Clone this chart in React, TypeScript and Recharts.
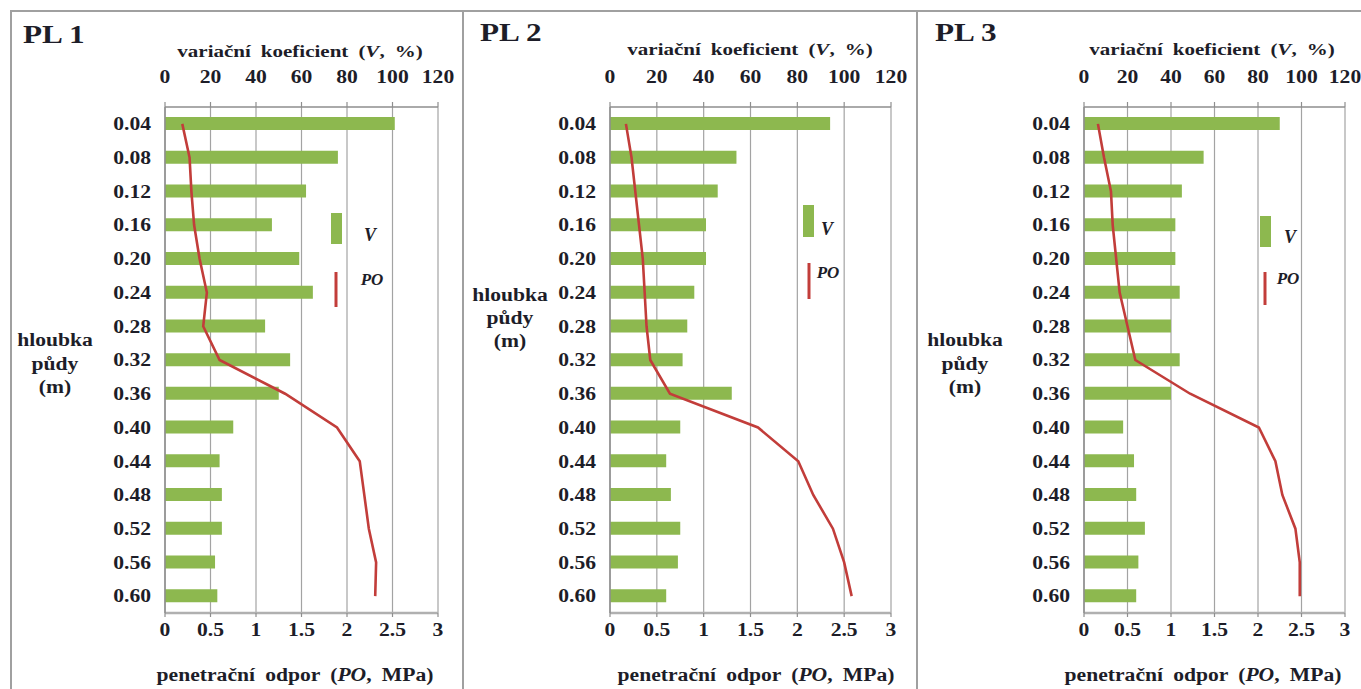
import React from 'react';
import { ComposedChart, Bar, Line, XAxis, YAxis, CartesianGrid, Legend } from 'recharts';

// ---------- data ----------
const depths = ['0.04', '0.08', '0.12', '0.16', '0.20', '0.24', '0.28', '0.32', '0.36', '0.40', '0.44', '0.48', '0.52', '0.56', '0.60'];

const v1 = [101, 76, 62, 47, 59, 65, 44, 55, 50, 30, 24, 25, 25, 22, 23];
const po1 = [0.19, 0.27, 0.29, 0.32, 0.38, 0.46, 0.42, 0.6, 1.32, 1.89, 2.14, 2.19, 2.24, 2.32, 2.31];

const v2 = [94, 54, 46, 41, 41, 36, 33, 31, 52, 30, 24, 26, 30, 29, 24];
const po2 = [0.17, 0.23, 0.27, 0.31, 0.35, 0.37, 0.39, 0.43, 0.64, 1.58, 2.01, 2.17, 2.38, 2.5, 2.58];

const v3 = [90, 55, 45, 42, 42, 44, 40, 44, 40, 18, 23, 24, 28, 25, 24];
const po3 = [0.16, 0.23, 0.31, 0.33, 0.37, 0.41, 0.5, 0.59, 1.22, 2.01, 2.2, 2.28, 2.43, 2.48, 2.48];

const vTicks = [0, 20, 40, 60, 80, 100, 120];
const poTicks = [0, 0.5, 1, 1.5, 2, 2.5, 3];
const boundaryTicks = [0, 1, 2, 3, 4, 5, 6, 7, 8, 9, 10, 11, 12, 13, 14, 15];

const panelNames = ['PL 1', 'PL 2', 'PL 3'];
const vTitle = 'variační koeficient';
const poTitle = 'penetrační odpor';
const depthTitle = ['hloubka', 'půdy', '(m)'];
const seriesV = 'V';
const seriesPO = 'PO';

// ---------- style ----------
const FONT = '"Liberation Serif", "Times New Roman", serif';
const TXT = '#1d1d28';
const GREEN = '#8db84f';
const RED = '#c23d3a';
const GRID = '#a3a3a3';
const AXIS = '#8e8e8e';
const SX = 1.2;
const H = 689;

const panels = [
  {
    name: panelNames[0], v: v1, po: po1, left: 0, width: 460, yw: 165, right: 22,
    pl: { x: 23, y: 35 }, vt: { x: 300, y: 52 }, pt: { x: 295, y: 675 }, dt: { x: 55, y: [340, 364, 387] },
    lg: { x: 331, y: 213, rh: 31, vx: 39, vy: 22, lx: 5, ly1: 59, ly2: 94, px: 41, py: 66 },
  },
  {
    name: panelNames[1], v: v2, po: po2, left: 455, width: 455, yw: 155, right: 19,
    pl: { x: 480, y: 33 }, vt: { x: 750, y: 50 }, pt: { x: 756, y: 675 }, dt: { x: 510, y: [295, 318, 341] },
    lg: { x: 348, y: 205, rh: 32, vx: 24, vy: 24, lx: 6, ly1: 58, ly2: 94, px: 25, py: 67 },
  },
  {
    name: panelNames[2], v: v3, po: po3, left: 910, width: 451, yw: 174, right: 16,
    pl: { x: 935, y: 33 }, vt: { x: 1212, y: 50 }, pt: { x: 1203, y: 675 }, dt: { x: 965, y: [340, 364, 387] },
    lg: { x: 350, y: 216, rh: 31, vx: 30, vy: 21, lx: 5, ly1: 56, ly2: 89, px: 28, py: 62 },
  },
];

const textStyle = (cx: number, cy: number, size: number): React.CSSProperties => ({
  position: 'absolute',
  left: cx,
  top: cy,
  transform: `translate(-50%, -50%) scaleX(${SX})`,
  fontFamily: FONT,
  fontWeight: 'bold',
  fontSize: size,
  color: TXT,
  whiteSpace: 'pre',
  lineHeight: 1,
});

function TopTick(props: any) {
  const { x, y, payload } = props;
  return (
    <g transform={`translate(${x},${y}) scale(${SX},1)`}>
      <text x={0} y={0} textAnchor="middle" fill={TXT} fontFamily={FONT} fontWeight="bold" fontSize={18}>
        {payload.value}
      </text>
    </g>
  );
}

function BottomTick(props: any) {
  const { x, y, payload } = props;
  return (
    <g transform={`translate(${x},${y}) scale(${SX},1)`}>
      <text x={0} y={0} dy="0.71em" textAnchor="middle" fill={TXT} fontFamily={FONT} fontWeight="bold" fontSize={18}>
        {String(payload.value)}
      </text>
    </g>
  );
}

function LeftTick(props: any) {
  const { x, y, payload } = props;
  return (
    <g transform={`translate(${x},${y}) scale(${SX},1)`}>
      <text x={0} y={0} dy="0.35em" textAnchor="end" fill={TXT} fontFamily={FONT} fontWeight="bold" fontSize={18}>
        {payload.value}
      </text>
    </g>
  );
}

function makeLegend(lg: any) {
  return (props: any) => {
    const payload = props.payload || [];
    const barItem = payload.find((p: any) => p.type === 'rect') || payload[0];
    const lineItem = payload.find((p: any) => p.type === 'line') || payload[1];
    return (
      <svg width={80} height={110} style={{ overflow: 'visible', display: 'block' }}>
        <rect x={0} y={0} width={11} height={lg.rh} fill={barItem ? barItem.color : GREEN} />
        <text x={lg.vx} y={lg.vy} dy="0.35em" textAnchor="middle" fill={TXT} fontFamily={FONT} fontStyle="italic" fontWeight="bold" fontSize={18}>
          {barItem ? barItem.value : seriesV}
        </text>
        <line x1={lg.lx} x2={lg.lx} y1={lg.ly1} y2={lg.ly2} stroke={lineItem ? lineItem.color : RED} strokeWidth={3} />
        <text x={lg.px} y={lg.py} dy="0.35em" textAnchor="middle" fill={TXT} fontFamily={FONT} fontStyle="italic" fontWeight="bold" fontSize={17}>
          {lineItem ? lineItem.value : seriesPO}
        </text>
      </svg>
    );
  };
}

function Panel({ cfg }: { cfg: any }) {
  const data = depths.map((d, i) => ({ depth: d, v: cfg.v[i], po: cfg.po[i] }));
  return (
    <div style={{ position: 'absolute', left: cfg.left, top: 0, width: cfg.width, height: H }}>
      <ComposedChart
        width={cfg.width}
        height={H}
        layout="vertical"
        data={data}
        margin={{ top: 77, right: cfg.right, bottom: 46, left: 0 }}
      >
        <CartesianGrid xAxisId="po" yAxisId="cat" horizontal={false} stroke={GRID} strokeWidth={1.2} />
        <XAxis
          xAxisId="v"
          type="number"
          orientation="top"
          domain={[0, 120]}
          ticks={vTicks}
          interval={0}
          height={30}
          tickSize={5}
          tickMargin={19}
          axisLine={{ stroke: AXIS, strokeWidth: 1.5 }}
          tickLine={{ stroke: AXIS, strokeWidth: 1.2 }}
          tick={(p: any) => <TopTick {...p} />}
        />
        <XAxis
          xAxisId="po"
          type="number"
          orientation="bottom"
          domain={[0, 3]}
          ticks={poTicks}
          interval={0}
          height={30}
          tickSize={4}
          tickMargin={6}
          axisLine={{ stroke: '#b0b0b0', strokeWidth: 2.5 }}
          tickLine={{ stroke: AXIS, strokeWidth: 1.2 }}
          tick={(p: any) => <BottomTick {...p} />}
        />
        <YAxis
          yAxisId="cat"
          type="category"
          dataKey="depth"
          width={cfg.yw}
          interval={0}
          tickLine={false}
          tickSize={0}
          tickMargin={14}
          axisLine={{ stroke: AXIS, strokeWidth: 1.5 }}
          tick={(p: any) => <LeftTick {...p} />}
        />
        <YAxis
          yAxisId="bnd"
          type="number"
          domain={[0, 15]}
          ticks={boundaryTicks}
          interval={0}
          mirror
          tick={false}
          tickSize={-5}
          axisLine={false}
          tickLine={{ stroke: AXIS, strokeWidth: 1.2 }}
        />
        <Bar
          xAxisId="v"
          yAxisId="cat"
          dataKey="v"
          name={seriesV}
          fill={GREEN}
          barSize={13}
          isAnimationActive={false}
        />
        <Line
          xAxisId="po"
          yAxisId="cat"
          dataKey="po"
          name={seriesPO}
          type="linear"
          stroke={RED}
          strokeWidth={2.6}
          dot={false}
          activeDot={false}
          isAnimationActive={false}
        />
        <Legend
          layout="vertical"
          align="center"
          verticalAlign="middle"
          wrapperStyle={{ left: cfg.lg.x, top: cfg.lg.y, width: 80, height: 110 }}
          content={makeLegend(cfg.lg)}
        />
      </ComposedChart>
    </div>
  );
}

export default function App() {
  return (
    <div style={{ position: 'absolute', left: 0, top: 0, width: 1361, height: H, background: '#fff', overflow: 'hidden' }}>
      {/* frame */}
      <div style={{ position: 'absolute', left: 10, top: 10, width: 1400, height: H, borderTop: '2px solid #a0a0a0', borderLeft: '2px solid #a0a0a0' }} />
      <div style={{ position: 'absolute', left: 462, top: 10, width: 2, height: H, background: '#a0a0a0' }} />
      <div style={{ position: 'absolute', left: 916, top: 10, width: 2, height: H, background: '#a0a0a0' }} />

      {panels.map((cfg) => (
        <Panel key={cfg.name} cfg={cfg} />
      ))}

      {panels.map((cfg) => (
        <React.Fragment key={cfg.name + '-t'}>
          <div style={{ ...textStyle(cfg.pl.x, cfg.pl.y, 26), transform: `translate(0, -50%) scaleX(${SX})`, transformOrigin: 'left center' }}>
            {cfg.name}
          </div>
          <div style={{ ...textStyle(cfg.vt.x, cfg.vt.y, 17.5), wordSpacing: 4 }}>
            {vTitle} (<i>{seriesV}</i>, %)
          </div>
          <div style={{ ...textStyle(cfg.pt.x, cfg.pt.y, 18), wordSpacing: 4 }}>
            {poTitle} (<i>{seriesPO}</i>, MPa)
          </div>
          {depthTitle.map((t, i) => (
            <div key={t} style={textStyle(cfg.dt.x, cfg.dt.y[i], 18)}>
              {t}
            </div>
          ))}
        </React.Fragment>
      ))}
    </div>
  );
}
